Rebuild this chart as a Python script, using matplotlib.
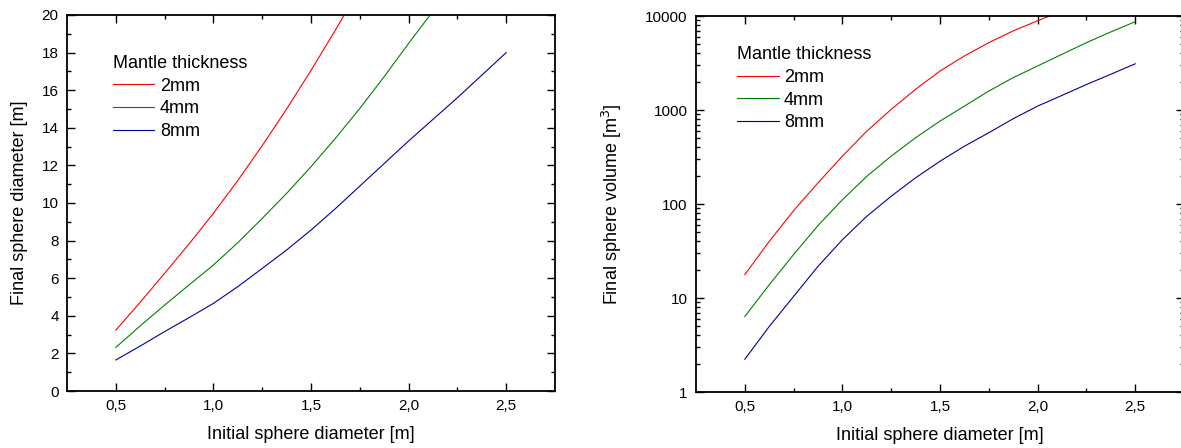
import matplotlib
matplotlib.use("Agg")
import matplotlib.pyplot as plt
from matplotlib.ticker import MultipleLocator, FixedLocator, LogLocator, NullFormatter, FuncFormatter

plt.rcParams['font.family'] = ['Liberation Sans', 'DejaVu Sans']

# ---- data: final diameter (left panel) ----
x_red_d = [0.5, 0.625, 0.75, 0.875, 1.0, 1.125, 1.25, 1.375, 1.5, 1.625, 1.67]
y_red_d = [3.24, 4.72, 6.26, 7.82, 9.45, 11.2, 13.05, 15.0, 17.05, 19.2, 20.0]

x_green_d = [0.5, 0.625, 0.75, 0.875, 1.0, 1.125, 1.25, 1.375, 1.5, 1.625, 1.75, 1.875, 2.0, 2.11]
y_green_d = [2.32, 3.46, 4.57, 5.64, 6.70, 7.89, 9.18, 10.51, 11.93, 13.44, 15.03, 16.72, 18.49, 20.0]

x_blue_d = [0.5, 0.625, 0.75, 0.875, 1.0, 1.125, 1.25, 1.375, 1.5, 1.625, 1.75, 1.875, 2.0, 2.125, 2.25, 2.375, 2.5]
y_blue_d = [1.65, 2.39, 3.16, 3.90, 4.66, 5.55, 6.52, 7.50, 8.56, 9.70, 10.90, 12.10, 13.30, 14.45, 15.60, 16.80, 18.0]

# ---- data: final volume (right panel) ----
x_red_v = [0.5, 0.625, 0.75, 0.875, 1.0, 1.125, 1.25, 1.375, 1.5, 1.625, 1.75, 1.875, 2.0, 2.062]
y_red_v = [17.7, 40, 85, 168, 323, 596, 1015, 1660, 2600, 3760, 5200, 6950, 8900, 10000]

x_green_v = [0.5, 0.625, 0.75, 0.875, 1.0, 1.125, 1.25, 1.375, 1.5, 1.625, 1.75, 1.875, 2.0, 2.125, 2.25, 2.375, 2.5]
y_green_v = [6.35, 13.8, 29, 59, 111, 197, 323, 507, 762, 1100, 1590, 2210, 2940, 3915, 5200, 6770, 8700]

x_blue_v = [0.5, 0.625, 0.75, 0.875, 1.0, 1.125, 1.25, 1.375, 1.5, 1.625, 1.75, 1.875, 2.0, 2.125, 2.25, 2.375, 2.5]
y_blue_v = [2.23, 4.97, 10.4, 21.7, 41.7, 74, 121, 190, 285, 412, 573, 807, 1100, 1430, 1865, 2400, 3100]

labels = ["2mm", "4mm", "8mm"]
colors = ["#ff0000", "#008000", "#000099"]
legend_title = "Mantle thickness"
xlabel = "Initial sphere diameter [m]"

fig = plt.figure(figsize=(11.81, 4.48), dpi=100)
axL = fig.add_axes([67/1181, 57/448, 488/1181, 376/448])
axR = fig.add_axes([696/1181, 56/448, 488/1181, 376/448])

lw = 0.8
for ax in (axL, axR):
    for sp in ax.spines.values():
        sp.set_linewidth(1.3)
    ax.tick_params(which='both', direction='in', top=True, right=True, width=1.0, labelsize=11, pad=6)
    ax.tick_params(which='major', length=6)
    ax.tick_params(which='minor', length=3)
    ax.set_xlim(0.25, 2.75)
    ax.xaxis.set_major_locator(FixedLocator([0.5, 1.0, 1.5, 2.0, 2.5]))
    ax.xaxis.set_minor_locator(FixedLocator([0.75, 1.25, 1.75, 2.25]))
    ax.xaxis.set_major_formatter(FuncFormatter(lambda v, p: f"{v:.1f}".replace('.', ',')))
    ax.set_xlabel(xlabel, fontsize=13, labelpad=9)

# left panel
for xs, ys, c, lab in zip([x_red_d, x_green_d, x_blue_d], [y_red_d, y_green_d, y_blue_d], colors, labels):
    axL.plot(xs, ys, color=c, lw=lw, label=lab)
axL.set_ylim(0, 20)
axL.yaxis.set_major_locator(MultipleLocator(2))
axL.yaxis.set_minor_locator(MultipleLocator(1))
axL.set_ylabel("Final sphere diameter [m]", fontsize=13, labelpad=10)

# right panel
for xs, ys, c, lab in zip([x_red_v, x_green_v, x_blue_v], [y_red_v, y_green_v, y_blue_v], colors, labels):
    axR.plot(xs, ys, color=c, lw=lw, label=lab)
axR.set_yscale('log')
axR.set_ylim(1, 10000)
axR.yaxis.set_major_locator(FixedLocator([1, 10, 100, 1000, 10000]))
axR.yaxis.set_major_formatter(FuncFormatter(lambda v, p: f"{int(round(v))}"))
axR.yaxis.set_minor_locator(LogLocator(base=10, subs=range(2, 10)))
axR.yaxis.set_minor_formatter(NullFormatter())
axR.set_ylabel("Final sphere volume [m$^3$]", fontsize=13, labelpad=15)

for ax, anchor in ((axL, (0.094, 0.894)), (axR, (0.084, 0.92))):
    leg = ax.legend(loc='upper left', bbox_to_anchor=anchor, frameon=False,
                    title=legend_title, fontsize=13, title_fontsize=13,
                    handlelength=2.3, handletextpad=0.3, labelspacing=0.32,
                    borderpad=0, borderaxespad=0, alignment='left')

fig.savefig("out.png", dpi=100)
